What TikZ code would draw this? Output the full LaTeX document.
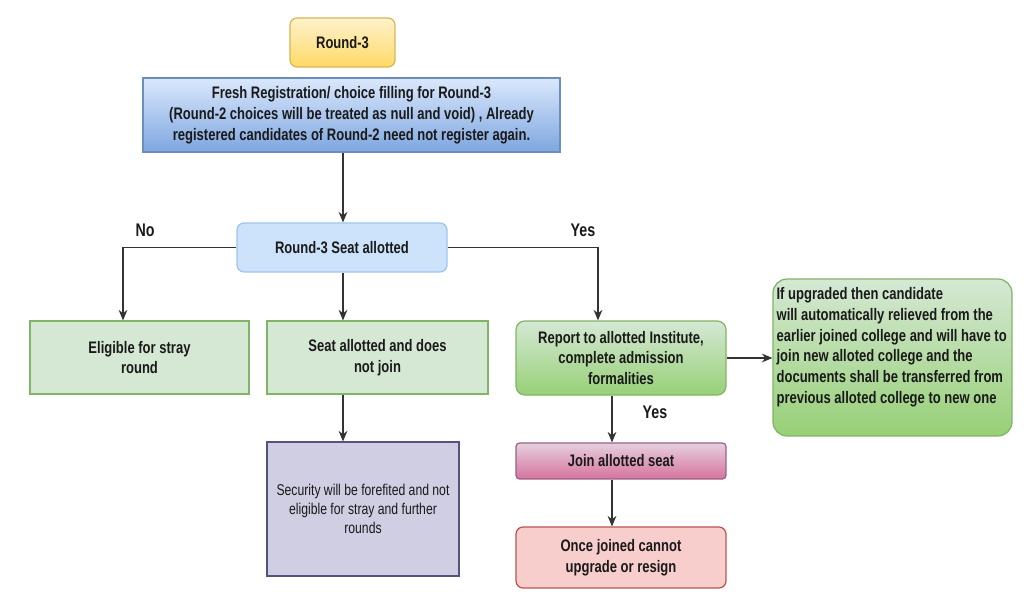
\documentclass[tikz,border=0pt]{standalone}
\usepackage{fontspec}
\setmainfont{Liberation Sans}[FakeStretch=0.78]
\usetikzlibrary{arrows.meta,calc}
\definecolor{txt}{HTML}{1A1A1A}
\definecolor{lnk}{HTML}{333333}
\definecolor{yelA}{HTML}{FFF2CC}\definecolor{yelB}{HTML}{FFD966}\definecolor{yelD}{HTML}{D6B656}
\definecolor{bluA}{HTML}{DAE8FC}\definecolor{bluB}{HTML}{7EA6E0}\definecolor{bluD}{HTML}{6C8EBF}
\definecolor{ltbF}{HTML}{CCE3FB}\definecolor{ltbD}{HTML}{9EC4EE}
\definecolor{grnF}{HTML}{D5E8D4}\definecolor{grnB}{HTML}{97D077}\definecolor{grnD}{HTML}{82B366}
\definecolor{pnkA}{HTML}{E6D0DE}\definecolor{pnkB}{HTML}{D5739D}\definecolor{pnkD}{HTML}{996185}
\definecolor{redF}{HTML}{F8CECC}\definecolor{redD}{HTML}{B85450}
\definecolor{purF}{HTML}{D0CEE2}\definecolor{purD}{HTML}{56517E}
\begin{document}
\begin{tikzpicture}[x=0.02cm,y=-0.02cm,
  base/.style={inner sep=0pt, align=center, text=txt, line width=0.7pt,
    font=\fontsize{9.5}{11.8}\selectfont\bfseries},
  yelbox/.style={base, rounded corners=4pt, top color=yelA, bottom color=yelB, draw=yelD},
  blubox/.style={base, top color=bluA, bottom color=bluB, draw=bluD},
  ltbbox/.style={base, rounded corners=4pt, fill=ltbF, draw=ltbD},
  grnbox/.style={base, fill=grnF, draw=grnD},
  grngrad/.style={base, rounded corners=5pt, top color=grnF, bottom color=grnB, draw=grnD},
  pnkbox/.style={base, rounded corners=2pt, top color=pnkA, bottom color=pnkB, draw=pnkD},
  redbox/.style={base, rounded corners=4pt, fill=redF, draw=redD},
  purbox/.style={base, fill=purF, draw=purD, font=\fontsize{8.9}{11}\selectfont},
  lbl/.style={text=txt, font=\fontsize{10.4}{12}\selectfont\bfseries},
  link/.style={draw=lnk, line width=0.6pt, -{Stealth[length=6pt,width=5pt]}}
]
\useasboundingbox[fill=white] (0,0) rectangle (1024,597);

\node[yelbox, minimum width=2.1cm, minimum height=0.98cm] (r3) at (342.5,42.5) {Round-3};
\node[blubox, minimum width=8.34cm, minimum height=1.48cm] (fresh) at (351.5,115)
  {Fresh Registration/ choice filling for Round-3\\
   (Round-2 choices will be treated as null and void) , Already\\
   registered candidates of Round-2 need not register again.};
\node[ltbbox, minimum width=4.2cm, minimum height=0.98cm] (seat) at (342,247.5) {Round-3 Seat allotted};
\node[grnbox, minimum width=4.38cm, minimum height=1.46cm] (elig) at (139.5,357.5) {Eligible for stray\\round};
\node[grnbox, minimum width=4.42cm, minimum height=1.46cm] (nojoin) at (377.5,357.5) {Seat allotted and does\\not join};
\node[purbox, minimum width=3.84cm, minimum height=2.68cm] (sec) at (363,509)
  {Security will be forefited and not\\eligible for stray and further\\rounds};
\node[grngrad, minimum width=4.2cm, minimum height=1.48cm] (report) at (621,358)
  {Report to allotted Institute,\\complete admission\\formalities};
\node[grngrad, rounded corners=8pt, minimum width=4.78cm, minimum height=3.14cm] (upg) at (892.5,357.5) {};
\node[base, align=left, anchor=north west] (upgtext) at (776,287)
  {If upgraded then candidate\\
   will automatically relieved from the\\
   earlier joined college and will have to\\
   join new alloted college and the\\
   documents shall be transferred from\\
   previous alloted college to new one};
\node[pnkbox, minimum width=4.2cm, minimum height=0.72cm] (join) at (621,461) {Join allotted seat};
\node[redbox, minimum width=4.2cm, minimum height=1.22cm] (once) at (621,557.5) {Once joined cannot\\upgrade or resign};

\coordinate (cNo) at (123,0);
\coordinate (cMid) at (343,0);
\coordinate (cYes) at (598,0);
\coordinate (cJn) at (612,0);

\draw[link] (fresh.south -| cMid) -- (seat.north -| cMid);
\draw[link] (seat.west) -| (elig.north -| cNo);
\draw[link] (seat.south -| cMid) -- (nojoin.north -| cMid);
\draw[link] (seat.east) -| (report.north -| cYes);
\draw[link] (nojoin.south -| cMid) -- (sec.north -| cMid);
\draw[link] (report.east) -- (report.east -| upg.west);
\draw[link] (report.south -| cJn) -- (join.north -| cJn);
\draw[link] (join.south -| cJn) -- (once.north -| cJn);

\node[lbl] (lno) at (145,230) {No};
\node[lbl] (lyes1) at (583,230) {Yes};
\node[lbl] (lyes2) at (655,412) {Yes};
\end{tikzpicture}
\end{document}
